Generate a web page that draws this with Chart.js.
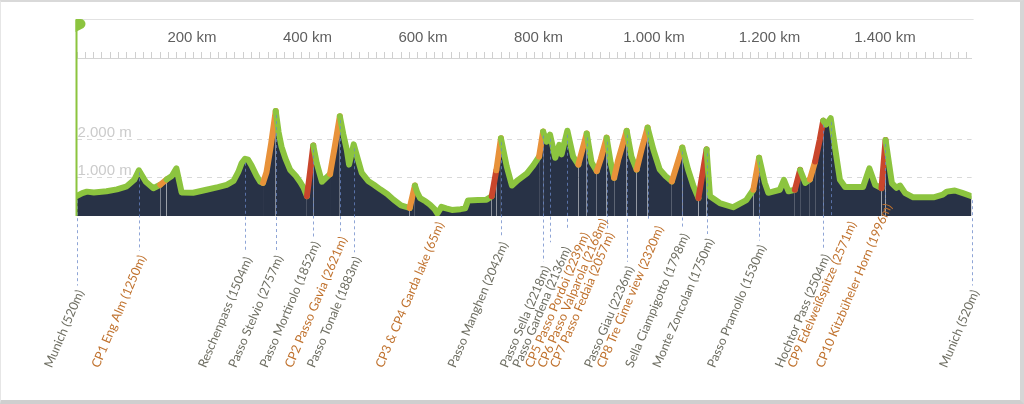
<!DOCTYPE html>
<html><head><meta charset="utf-8">
<script src="https://cdn.jsdelivr.net/npm/chart.js@4/dist/chart.umd.min.js"></script>
<style>
html,body{margin:0;padding:0;background:#fff;}
#wrap{position:relative;width:1024px;height:404px;overflow:hidden;}
#frame{position:absolute;left:0;top:0;width:1024px;height:404px;box-sizing:border-box;border-top:2px solid #d9d9d9;border-right:4px solid #d6d6d6;border-bottom:4px solid #cfcfcf;border-left:1px solid #e6e6e6;pointer-events:none;}
canvas{display:block;}
</style></head><body>
<div id="wrap"><canvas id="c" width="1024" height="404"></canvas><div id="frame"></div></div>
<script>
// ---- elevation profile (distance km, elevation m) ----
const profileKm = [0,10,18,30,52,70,87,100,108,120,133,145,156,165,173,178,182,202,225,245,260,272,280,286,292,297,303,312,318,323,329,337,345,350,355,362,370,380,387,393,399,404,410,416,425,432,439,447,456,462,468,472,480,487,494,505,515,526,538,549,562,577,586,590,595,605,612,620,625,632,640,650,665,673,678,695,710,719,727,735,745,754,765,780,791,801,808,814,820,829,836,840,850,860,869,883.5,892,901,908,918,925,931,938,952.7,961,970,979,989,999,1010,1020,1031,1049,1059,1068,1077,1091,1097,1114,1137,1160,1172,1182,1192,1198,1218,1225,1233,1244,1253,1262,1270,1279,1287,1293,1298,1306,1312,1322,1331,1362,1373,1383,1394,1401,1412,1420,1426,1435,1449,1484,1500,1507,1521,1535,1550];
const profileElev = [520,600,640,620,650,700,780,950,1200,900,730,820,960,1050,1250,900,620,610,690,760,820,920,1150,1390,1504,1480,1330,1050,900,870,1150,1900,2757,2200,1820,1500,1210,1050,900,750,520,1100,1852,1390,900,1000,1100,1800,2621,2150,1740,1350,1883,1500,1130,920,820,700,580,430,280,210,800,620,470,380,300,180,65,240,200,160,180,200,410,420,430,520,1200,2042,1300,800,950,1120,1330,1560,2218,1950,2136,1530,1870,1620,2239,1560,1350,2168,1400,1180,1500,2057,1400,1000,1470,2236,1560,1220,1780,2320,1740,1220,1050,910,1798,1220,800,470,1750,520,340,230,420,690,1530,870,610,690,950,650,690,1210,870,960,1430,2000,2504,2400,2571,1950,950,760,760,1250,820,730,1996,860,740,800,600,490,490,560,640,670,600,520];
// climb category of the segment ending at each point: 0 normal, 1 steep, 2 very steep
const climbClass = [0,0,0,0,0,0,0,0,0,0,0,0,1,0,0,0,0,0,0,0,0,0,0,0,0,0,0,0,0,0,1,1,1,0,0,0,0,0,0,0,0,2,2,0,0,0,0,1,1,0,0,0,0,0,0,0,0,0,0,0,0,0,1,0,0,0,0,0,0,0,0,0,0,0,0,0,0,0,2,1,0,0,0,0,0,0,1,0,0,0,0,0,0,0,0,1,0,0,1,1,0,0,1,1,0,0,1,1,0,0,0,0,1,0,0,0,2,0,0,0,0,0,1,0,0,0,0,0,0,2,0,0,1,2,2,0,0,0,0,0,0,0,0,0,2,0,0,0,0,0,0,0,0,0,0,0];

// ---- waypoints ----
const waypointKm = [0,108,292,345,410,456,480,625,735,808,820,850,883.5,918,952.7,989,1049,1091,1182,1293,1306,1400,1550];
const waypointName = ["Munich","CP1 Eng Alm","Reschenpass","Passo Stelvio","Passo Mortirolo","CP2 Passo Gavia","Passo Tonale","CP3 & CP4 Garda lake","Passo Manghen","Passo Sella","Passo Gardena","CP5 Passo Pordoi","CP6 Passo Valparola","CP7 Passo Fedaia","Passo Giau","CP8 Tre Cime view","Sella Ciampigotto","Monte Zoncolan","Passo Pramollo","Hochtor Pass","CP9 Edelweißspitze","CP10 Kitzbüheler Horn","Munich"];
const waypointElev = [520,1250,1504,2757,1852,2621,1883,65,2042,2218,2136,2239,2168,2057,2236,2320,1798,1750,1530,2504,2571,1996,520];
const waypointIsCP = [false,true,false,false,false,true,false,true,false,false,false,true,true,true,false,true,false,false,false,false,true,true,false];

// ---- axis ticks ----
const xTickValues = [200,400,600,800,1000,1200,1400];
const yTickValues = [1000,2000];
const xMin = 0, xMax = 1550, yMin = 0, yMax = 4150;
const minorTickStep = 14.4;

const GREEN = '#8cc43f';
const NAVY = '#283246';
const CLIMB_COLORS = [GREEN, '#e8923a', '#c9462c'];
const fmt = n => String(Math.round(n)).replace(/\B(?=(\d{3})+(?!\d))/g, '.');

const decor = {
  id: 'decor',
  afterDraw(chart) {
    const {ctx, chartArea: ca, scales: {x, y}} = chart;
    ctx.save();
    // top line of the axis band
    ctx.strokeStyle = '#e2e2e2'; ctx.lineWidth = 1;
    ctx.beginPath(); ctx.moveTo(ca.left, ca.top - 38.5); ctx.lineTo(ca.right + 2, ca.top - 38.5); ctx.stroke();
    // minor ticks
    ctx.strokeStyle = '#cfcfcf';
    ctx.beginPath();
    for (let v = xMin; v <= xMax; v += minorTickStep) {
      const px = Math.round(x.getPixelForValue(v)) + 0.5;
      ctx.moveTo(px, ca.top); ctx.lineTo(px, ca.top - 6);
    }
    ctx.stroke();
    // waypoints
    const th = 67 * Math.PI / 180;
    const cos = Math.cos(th), sin = Math.sin(th);
    const baseY = 367, minGap = 12.5;
    ctx.font = '12.5px Lato';
    let prevStart = -Infinity;
    waypointKm.forEach((km, i) => {
      const text = waypointName[i] + ' (' + waypointElev[i] + 'm)';
      const px = Math.round(x.getPixelForValue(km)) + 0.5;
      const w = ctx.measureText(text).width;
      let startX = px + 3 - w * cos;
      startX = Math.max(startX, prevStart + minGap);
      prevStart = startX;
      const endY = baseY - w * sin;
      ctx.setLineDash([3, 3]);
      ctx.lineWidth = 1;
      ctx.strokeStyle = 'rgba(105,135,200,0.75)';
      ctx.beginPath();
      ctx.moveTo(px, y.getPixelForValue(waypointElev[i]) + 4);
      ctx.lineTo(px, endY - 5);
      ctx.stroke();
      ctx.setLineDash([]);
      ctx.save();
      ctx.translate(startX, baseY); ctx.rotate(-th);
      ctx.textAlign = 'left'; ctx.textBaseline = 'middle';
      ctx.fillStyle = waypointIsCP[i] ? '#c0722e' : '#6e6e62';
      ctx.fillText(text, 0, 0);
      ctx.restore();
    });
    // start flag
    const fx = x.getPixelForValue(xMin);
    ctx.fillStyle = GREEN;
    ctx.fillRect(fx - 1, ca.top - 38, 2, ca.bottom - ca.top + 38);
    ctx.beginPath();
    ctx.moveTo(fx - 1, ca.top - 39);
    ctx.lineTo(fx + 4, ca.top - 39);
    ctx.arc(fx + 4, ca.top - 34, 5, -Math.PI / 2, Math.PI * 0.3);
    ctx.lineTo(fx - 1, ca.top - 26);
    ctx.closePath(); ctx.fill();
    ctx.restore();
  }
};

new Chart(document.getElementById('c'), {
  type: 'line',
  data: {
    datasets: [{
      data: profileKm.map((k, i) => ({x: k, y: profileElev[i]})),
      borderColor: GREEN,
      borderWidth: 6,
      backgroundColor: NAVY,
      fill: 'origin',
      pointRadius: 0,
      tension: 0,
      borderJoinStyle: 'round',
      borderCapStyle: 'round',
      segment: { borderColor: c => CLIMB_COLORS[climbClass[c.p1DataIndex]] }
    }]
  },
  options: {
    responsive: false, animation: false, devicePixelRatio: 1,
    layout: { padding: { left: 76.5, right: 52.4, top: 20, bottom: 188 } },
    plugins: { legend: { display: false }, tooltip: { enabled: false } },
    scales: {
      x: {
        type: 'linear', position: 'top', min: xMin, max: xMax,
        afterBuildTicks: s => { s.ticks = xTickValues.map(v => ({value: v})); },
        afterFit: s => { s.height = 38; },
        grid: { display: false, drawTicks: false },
        border: { display: true, color: '#d4d4d4' },
        ticks: { callback: v => fmt(v) + ' km', font: { family: 'Liberation Sans', size: 15 }, color: '#5f5f5f', padding: 11, maxRotation: 0, autoSkip: false }
      },
      y: {
        min: yMin, max: yMax,
        afterBuildTicks: s => { s.ticks = yTickValues.map(v => ({value: v})); },
        afterFit: s => { s.width = 0; },
        grid: { color: '#d9d9d9', drawTicks: false, lineWidth: 1 },
        border: { display: false, dash: [5, 5] },
        ticks: { mirror: true, padding: 1, labelOffset: -7, callback: v => fmt(v) + ' m', font: { family: 'Liberation Sans', size: 15 }, color: '#cbcbcb' }
      }
    }
  },
  plugins: [decor]
});
</script>
</body></html>
